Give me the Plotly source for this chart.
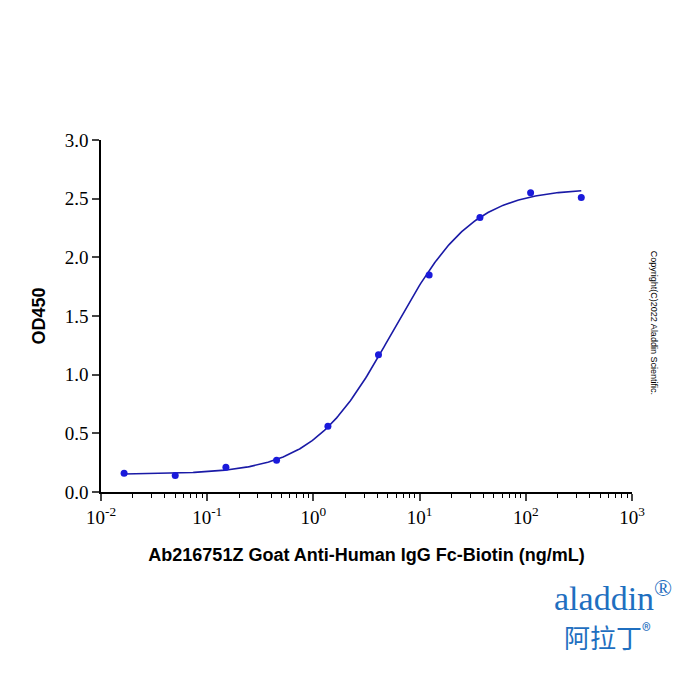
import numpy as np
import plotly.graph_objects as go

conc = [0.0165, 0.05, 0.15, 0.45, 1.37, 4.1, 12.3, 37, 111, 333]
od = [0.16, 0.14, 0.21, 0.27, 0.56, 1.17, 1.85, 2.34, 2.55, 2.51]
# 4PL fit parameters (bottom, top, EC50, hill)
fit_params = [0.15, 2.59, 5.6, 1.15]

b, t, ec, h = fit_params
xs = np.logspace(np.log10(conc[0]), np.log10(conc[-1]), 300)
ys = b + (t - b) / (1 + (ec / xs) ** h)

fig = go.Figure()
fig.add_trace(go.Scatter(x=xs, y=ys, mode="lines", line=dict(color="#1a1aa6", width=1.6), hoverinfo="skip"))
fig.add_trace(go.Scatter(x=conc, y=od, mode="markers", marker=dict(color="#1a1adb", size=7)))

tickfont = dict(family="Liberation Serif", size=19, color="black")
fig.update_layout(
    width=700, height=700, showlegend=False, plot_bgcolor="white", paper_bgcolor="white",
    margin=dict(l=93, r=76, t=132, b=216),
    xaxis=dict(type="log", range=[-2, 3], showline=True, linecolor="black", linewidth=1.5,
               ticks="outside", ticklen=7, tickwidth=1.5, showgrid=False, zeroline=False,
               tickvals=[0.01, 0.1, 1, 10, 100, 1000],
               ticktext=["10<sup>-2</sup>", "10<sup>-1</sup>", "10<sup>0</sup>", "10<sup>1</sup>", "10<sup>2</sup>", "10<sup>3</sup>"],
               tickfont=tickfont,
               minor=dict(ticks="outside", ticklen=4, tickwidth=1, tickcolor="black",
                          tickvals=[m * 10 ** e for e in range(-2, 3) for m in range(2, 10)]),
               title=dict(text="<b>Ab216751Z Goat Anti-Human IgG Fc-Biotin (ng/mL)</b>",
                          font=dict(family="Liberation Sans", size=18, color="black"), standoff=22)),
    yaxis=dict(range=[0, 3], showline=True, linecolor="black", linewidth=1.5,
               ticks="outside", ticklen=7, tickwidth=1.5, showgrid=False, zeroline=False,
               tickvals=[0, 0.5, 1, 1.5, 2, 2.5, 3], tickformat=".1f", tickfont=tickfont,
               title=dict(text="<b>OD450</b>", font=dict(family="Liberation Sans", size=18, color="black"), standoff=14)),
)
fig.add_annotation(text="Copyright(C)2022 Aladdin Scientific.", xref="paper", yref="paper",
                   x=1.055, y=0.48, textangle=90, showarrow=False,
                   font=dict(family="Liberation Sans", size=9, color="black"))
fig.add_annotation(text="aladdin<sup>®</sup>", xref="paper", yref="paper", x=1.08, y=-0.36,
                   xanchor="right", showarrow=False,
                   font=dict(family="Liberation Serif", size=34, color="#1f6fc0"))
fig.add_annotation(text="阿拉丁<sup>®</sup>", xref="paper", yref="paper", x=1.04, y=-0.47,
                   xanchor="right", showarrow=False,
                   font=dict(family="Noto Sans CJK SC", size=26, color="#1f6fc0"))
fig.write_html("out.html")
